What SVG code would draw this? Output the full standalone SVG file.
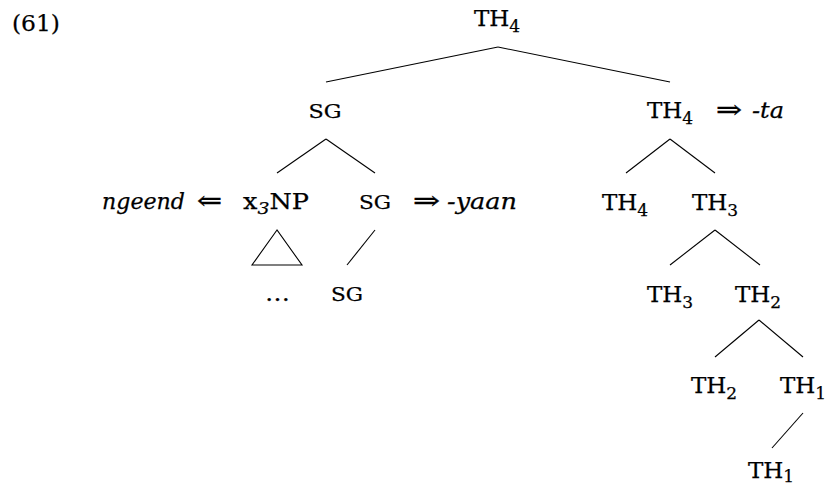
<svg xmlns="http://www.w3.org/2000/svg" width="825" height="488" viewBox="0 0 825 488">
<style>
text{font-family:"DejaVu Serif","Liberation Serif",serif;font-size:23px;fill:#000;stroke:#000;stroke-width:0.25}
.lbl{text-anchor:middle}
.sub{font-size:17px}
.sc{font-size:19px}
.it{font-style:italic}
.ar{font-size:25px;stroke-width:0.4}
.edge{stroke:#000;stroke-width:1.1;fill:none}
</style>
<rect width="825" height="488" fill="#fff"/>
<text id="ex" x="12" y="31" textLength="48" lengthAdjust="spacingAndGlyphs">(61)</text>
<g id="connectors">
<line class="edge" x1="498" y1="47" x2="326" y2="82"/>
<line class="edge" x1="498" y1="47" x2="670" y2="82"/>
<line class="edge" x1="326" y1="139" x2="277" y2="173"/>
<line class="edge" x1="326" y1="139" x2="375" y2="173"/>
<line class="edge" x1="670" y1="139" x2="626" y2="173"/>
<line class="edge" x1="670" y1="139" x2="715" y2="173"/>
<polygon class="edge" points="277,230 252,265 302,265"/>
<line class="edge" x1="375" y1="230" x2="347" y2="265"/>
<line class="edge" x1="715" y1="230" x2="670" y2="265"/>
<line class="edge" x1="715" y1="230" x2="760" y2="265"/>
<line class="edge" x1="759" y1="320" x2="715" y2="357"/>
<line class="edge" x1="759" y1="320" x2="803" y2="357"/>
<line class="edge" x1="803" y1="413" x2="772" y2="448"/>
</g>
<g id="th4-root"><text class="lbl" x="497" y="26">TH<tspan class="sub" dy="6">4</tspan></text></g>
<g id="sg-1"><text class="lbl sc" x="325" y="118" textLength="33" lengthAdjust="spacingAndGlyphs">SG</text></g>
<g id="th4-right"><text class="lbl" x="670" y="118">TH<tspan class="sub" dy="6">4</tspan></text>
<text class="ar" x="716" y="118" textLength="26" lengthAdjust="spacingAndGlyphs">⇒</text>
<text class="it" x="752" y="118" textLength="32" lengthAdjust="spacingAndGlyphs">-ta</text></g>
<g id="x3np"><text class="it" x="102" y="209" textLength="83" lengthAdjust="spacingAndGlyphs">ngeend</text>
<text class="ar" x="197" y="209" textLength="25" lengthAdjust="spacingAndGlyphs">⇐</text>
<text x="243" y="209" textLength="66" lengthAdjust="spacingAndGlyphs">x<tspan class="sub it" dy="5">3</tspan><tspan dy="-5">NP</tspan></text></g>
<g id="sg-2"><text class="lbl sc" x="375" y="209" textLength="32" lengthAdjust="spacingAndGlyphs">SG</text>
<text class="ar" x="413" y="209" textLength="27" lengthAdjust="spacingAndGlyphs">⇒</text>
<text class="it" x="447" y="209" textLength="70" lengthAdjust="spacingAndGlyphs">-yaan</text></g>
<g id="th4-2"><text class="lbl" x="625" y="210">TH<tspan class="sub" dy="6">4</tspan></text></g>
<g id="th3-2"><text class="lbl" x="715" y="210">TH<tspan class="sub" dy="6">3</tspan></text></g>
<g id="dots"><text x="265" y="301" textLength="25" lengthAdjust="spacingAndGlyphs">…</text></g>
<g id="sg-3"><text class="lbl sc" x="347" y="301" textLength="32" lengthAdjust="spacingAndGlyphs">SG</text></g>
<g id="th3-3"><text class="lbl" x="670" y="302">TH<tspan class="sub" dy="6">3</tspan></text></g>
<g id="th2-3"><text class="lbl" x="758" y="302">TH<tspan class="sub" dy="6">2</tspan></text></g>
<g id="th2-4"><text class="lbl" x="714" y="393">TH<tspan class="sub" dy="6">2</tspan></text></g>
<g id="th1-4"><text class="lbl" x="803" y="393">TH<tspan class="sub" dy="6">1</tspan></text></g>
<g id="th1-5"><text class="lbl" x="771" y="478">TH<tspan class="sub" dy="4">1</tspan></text></g>
</svg>
